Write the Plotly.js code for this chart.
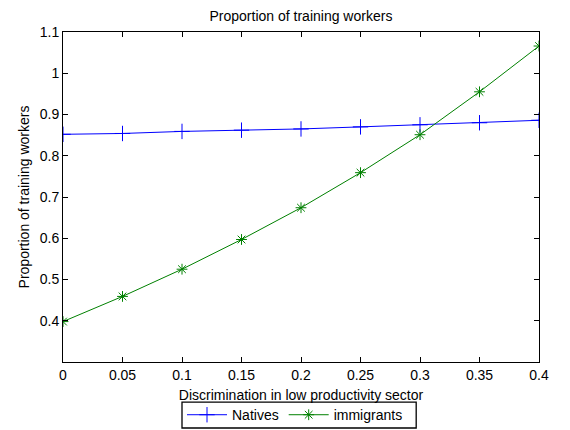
<!DOCTYPE html>
<html>
<head>
<meta charset="utf-8">
<script src="https://cdn.plot.ly/plotly-3.0.1.min.js"></script>
<style>html,body{margin:0;padding:0;background:#fff;}#chart{width:570px;height:430px;}</style>
</head>
<body>
<div id="chart"></div>
<script>
const discrimination = [0, 0.05, 0.1, 0.15, 0.2, 0.25, 0.3, 0.35, 0.4];
const natives = [0.852, 0.854, 0.859, 0.862, 0.865, 0.870, 0.875, 0.880, 0.886];
const immigrants = [0.398, 0.459, 0.525, 0.597, 0.674, 0.759, 0.851, 0.955, 1.066];
const xTicks = [0, 0.05, 0.1, 0.15, 0.2, 0.25, 0.3, 0.35, 0.4];
const xTickText = ['0', '0.05', '0.1', '0.15', '0.2', '0.25', '0.3', '0.35', '0.4'];
const yTicks = [0.4, 0.5, 0.6, 0.7, 0.8, 0.9, 1, 1.1];
const yTickText = ['0.4', '0.5', '0.6', '0.7', '0.8', '0.9', '1', '1.1'];

const font = {family: 'Arial, "Liberation Sans", sans-serif', size: 14, color: '#000'};

const traces = [
  {x: discrimination, y: natives, name: 'Natives', type: 'scatter', mode: 'lines+markers',
   line: {color: '#0000ff', width: 1},
   marker: {symbol: 'cross-thin-open', size: 11, color: '#0000ff', line: {color: '#0000ff', width: 1}}},
  {x: discrimination, y: immigrants, name: 'immigrants', type: 'scatter', mode: 'lines+markers',
   line: {color: '#008000', width: 1},
   marker: {symbol: 'asterisk-open', size: 9, color: '#008000', line: {color: '#008000', width: 1}}}
];

const axisCommon = {
  showgrid: false, zeroline: false, showline: true, linecolor: '#000', linewidth: 1,
  mirror: 'ticks', ticks: 'inside', ticklen: 5, tickwidth: 1, tickcolor: '#000',
  tickfont: font, automargin: false
};

const layout = {
  width: 570, height: 430,
  margin: {l: 63, r: 31, t: 32, b: 68, autoexpand: false},
  paper_bgcolor: '#fff', plot_bgcolor: '#fff',
  font: font,
  title: {text: 'Proportion of training workers', font: font, x: 0.528, xanchor: 'center', y: 0.962, yanchor: 'middle'},
  xaxis: Object.assign({}, axisCommon, {
    range: [0, 0.4], tickmode: 'array', tickvals: xTicks, ticktext: xTickText,
    title: {text: 'Discrimination in low productivity sector', font: font, standoff: 8}
  }),
  yaxis: Object.assign({}, axisCommon, {
    range: [0.3, 1.1], tickmode: 'array', tickvals: yTicks, ticktext: yTickText,
    title: {text: 'Proportion of training workers', font: font, standoff: 6}
  }),
  showlegend: true,
  legend: {orientation: 'h', x: 0.25, xanchor: 'left', y: -0.161, yanchor: 'middle',
    borderwidth: 0, bgcolor: 'rgba(0,0,0,0)', font: font,
    itemwidth: 40, tracegroupgap: 0},
  shapes: [{type: 'rect', xref: 'paper', yref: 'paper', x0: 0.25, x1: 0.742, y0: -0.2, y1: -0.1215,
    line: {color: '#000', width: 1.3}, fillcolor: 'rgba(0,0,0,0)', layer: 'below'}]
};

Plotly.newPlot('chart', traces, layout, {displayModeBar: false, staticPlot: true});
</script>
</body>
</html>
